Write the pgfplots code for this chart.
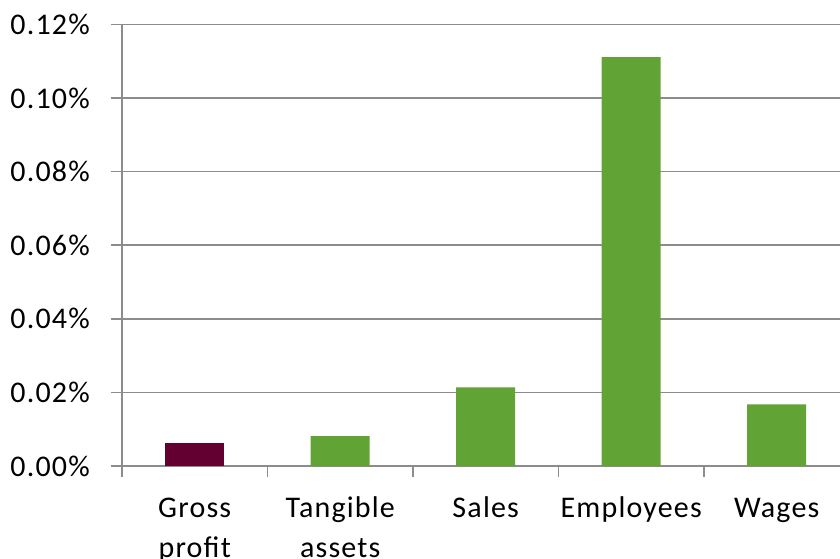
\documentclass[border=0pt]{standalone}
\usepackage{pgfplots}
\pgfplotsset{compat=1.18}
\usepackage{fontspec}
\setmainfont[LetterSpace=4]{Carlito}
\definecolor{barg}{HTML}{62A336}
\definecolor{barp}{HTML}{630031}
\definecolor{gridc}{HTML}{8C8C8C}
\begin{document}
\fontsize{30}{40}\selectfont
\begin{tikzpicture}
\begin{axis}[
  scale only axis, width=718pt, height=441.5pt,
  xmin=-0.5, xmax=4.435, ymin=0, ymax=0.12,
  axis x line*=bottom, axis y line*=left,
  axis line style={gridc, line width=1.5pt, -},
  ybar, bar width=59pt,
  ytick={0,0.02,0.04,0.06,0.08,0.10,0.12},
  yticklabels={0.00\%,0.02\%,0.04\%,0.06\%,0.08\%,0.10\%,0.12\%},
  ymajorgrids, grid style={gridc, line width=1.5pt},
  xtick={0,1,2,3,4},
  xticklabels={{\strut Gross\\profit},{\strut Tangible\\assets},{\strut Sales},{\strut Employees},{\strut Wages}},
  every tick label/.append style={font=\fontsize{30}{40}\selectfont},
  xticklabel style={align=center, anchor=north, yshift=-2pt},
  yticklabel style={xshift=-11pt},
  major x tick style={draw=none},
  minor xtick={-0.5,0.5,1.5,2.5,3.5},
  tick align=outside, major tick length=11pt, minor tick length=11pt,
  tick style={gridc, line width=1.5pt},
  clip=false,
]
\coordinate (o) at (rel axis cs:0,0);
\addplot[fill=barp, draw=none, bar shift=0pt] coordinates {(0,0.00633)};
\addplot[fill=barg, draw=none, bar shift=0pt] coordinates {(1,0.00815) (2,0.0214) (3,0.1111) (4,0.01677)};
\end{axis}
\pgfresetboundingbox
\path (o) ++(-122pt,-93pt) rectangle ++(840pt,559pt);
\end{tikzpicture}
\end{document}
